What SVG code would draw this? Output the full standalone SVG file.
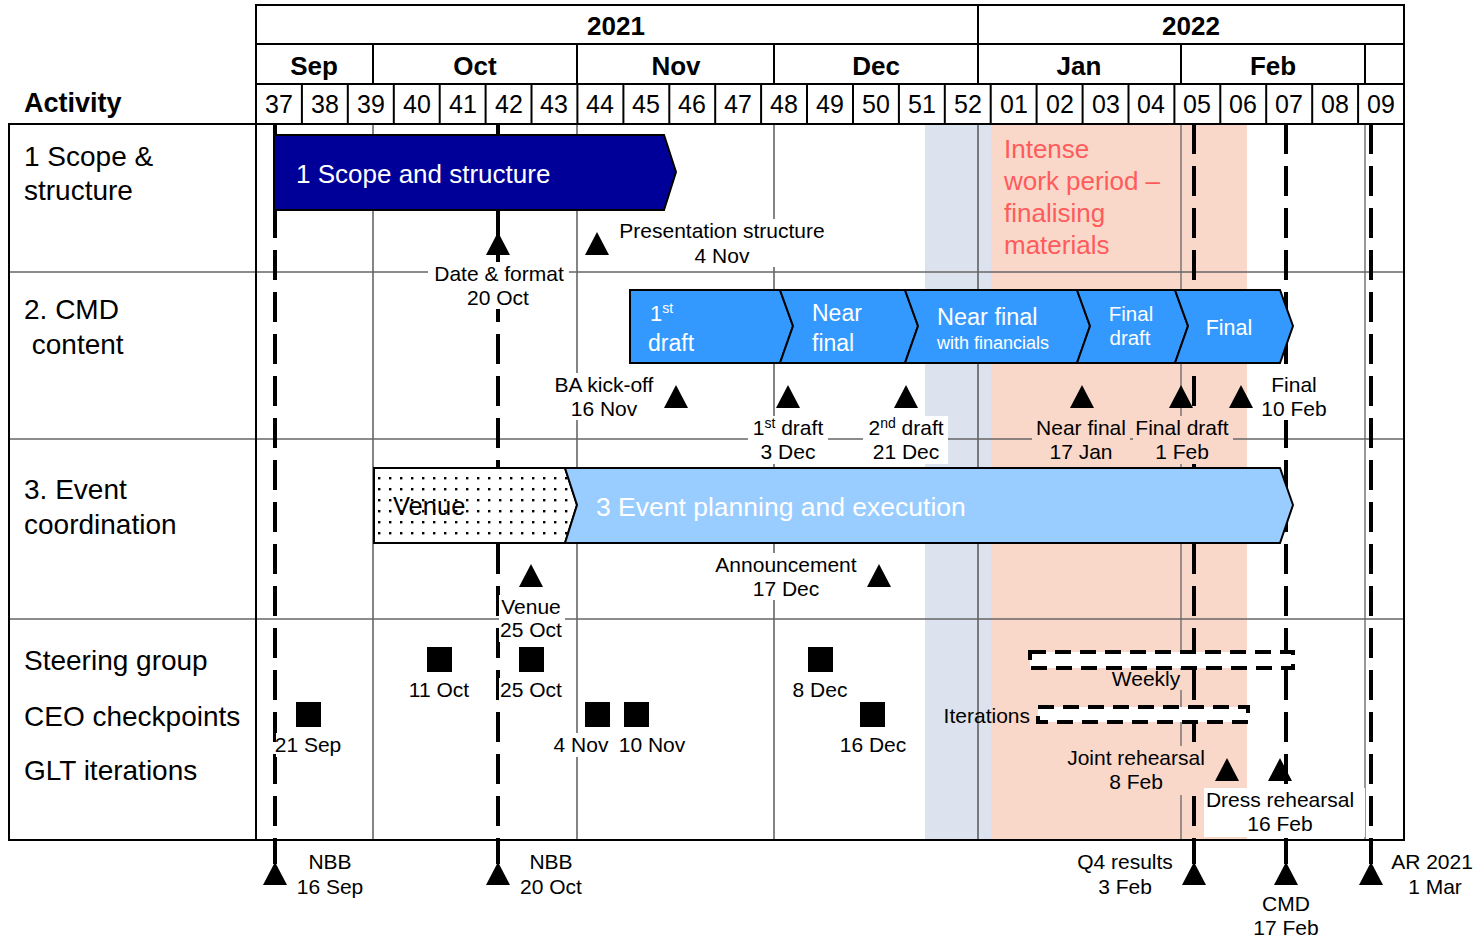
<svg xmlns="http://www.w3.org/2000/svg" width="1473" height="937" viewBox="0 0 1473 937">
<style>
text{font-family:"Liberation Sans",Arial,sans-serif;fill:#000}
.hb{font-weight:bold;font-size:26px;text-anchor:middle}
.wk{font-size:25px;text-anchor:middle}
.act{font-size:28px}
.lb{font-size:21px;text-anchor:middle}
.wt{fill:#fff}
.grid{stroke:#333;stroke-width:1.2;fill:none}
.ggrid{stroke:#777;stroke-width:1.5;fill:none}
.row{stroke:#666;stroke-width:1.6}
.hdr{stroke:#000;stroke-width:2;fill:none}
.ms{stroke:#000;stroke-width:4;stroke-dasharray:30 12;fill:none}
.bar{stroke:#000;stroke-width:2}
.dbox{fill:#fff;stroke:#000;stroke-width:4;stroke-dasharray:16 9}
.wbg{fill:#fff}
.sbg{fill:#F9D8CA}
</style>
<defs>
<path id="tri" d="M0,0 L12,23 L-12,23 Z" fill="#000"/>
<pattern id="dots" width="11" height="11" patternUnits="userSpaceOnUse">
<rect width="11" height="11" fill="#fff"/>
<rect x="4" y="4" width="2.4" height="2.4" fill="#000"/>
</pattern>
</defs>
<rect width="1473" height="937" fill="#fff"/>

<!-- shading -->
<rect x="925" y="124" width="66" height="716" fill="#DCE3EE"/>
<rect x="991" y="124" width="256" height="716" fill="#F9D8CA"/>

<!-- body grid -->
<g id="grid">
<line class="grid" x1="373" y1="124" x2="373" y2="840"/>
<line class="grid" x1="577" y1="124" x2="577" y2="840"/>
<line class="grid" x1="774" y1="124" x2="774" y2="840"/>
<line class="grid" x1="978" y1="124" x2="978" y2="840"/>
<line class="ggrid" x1="1181" y1="124" x2="1181" y2="840"/>
<line class="ggrid" x1="1365" y1="124" x2="1365" y2="840"/>
<line class="row" x1="9" y1="272" x2="1404" y2="272"/>
<line class="row" x1="9" y1="439" x2="1404" y2="439"/>
<line class="row" x1="9" y1="619" x2="1404" y2="619"/>
<rect class="hdr" x="9" y="124" width="1395" height="716"/>
<line class="hdr" x1="256" y1="124" x2="256" y2="840"/>
</g>

<!-- header -->
<g id="header">
<rect class="hdr" x="256" y="5" width="1148" height="119"/>
<line class="hdr" x1="256" y1="44" x2="1404" y2="44"/>
<line class="hdr" x1="256" y1="84" x2="1404" y2="84"/>
<line class="hdr" x1="978" y1="5" x2="978" y2="84"/>
<line class="hdr" x1="373" y1="44" x2="373" y2="84"/>
<line class="hdr" x1="577" y1="44" x2="577" y2="84"/>
<line class="hdr" x1="774" y1="44" x2="774" y2="84"/>
<line class="hdr" x1="1181" y1="44" x2="1181" y2="84"/>
<line class="hdr" x1="1365" y1="44" x2="1365" y2="84"/>
<path class="hdr" d="M301.9,84V124M347.8,84V124M393.8,84V124M439.7,84V124M485.6,84V124M531.5,84V124M577.4,84V124M623.4,84V124M669.3,84V124M715.2,84V124M761.1,84V124M807,84V124M853,84V124M898.9,84V124M944.8,84V124M990.7,84V124M1036.6,84V124M1082.6,84V124M1128.5,84V124M1174.4,84V124M1220.3,84V124M1266.2,84V124M1312.2,84V124M1358.1,84V124"/>
<text class="hb" x="616" y="35">2021</text>
<text class="hb" x="1191" y="35">2022</text>
<text class="hb" x="314" y="75">Sep</text>
<text class="hb" x="475" y="75">Oct</text>
<text class="hb" x="676" y="75">Nov</text>
<text class="hb" x="876" y="75">Dec</text>
<text class="hb" x="1079" y="75">Jan</text>
<text class="hb" x="1273" y="75">Feb</text>
<text class="wk" y="113"><tspan x="279">37</tspan><tspan x="325">38</tspan><tspan x="371">39</tspan><tspan x="417">40</tspan><tspan x="463">41</tspan><tspan x="509">42</tspan><tspan x="554">43</tspan><tspan x="600">44</tspan><tspan x="646">45</tspan><tspan x="692">46</tspan><tspan x="738">47</tspan><tspan x="784">48</tspan><tspan x="830">49</tspan><tspan x="876">50</tspan><tspan x="922">51</tspan><tspan x="968">52</tspan><tspan x="1014">01</tspan><tspan x="1060">02</tspan><tspan x="1106">03</tspan><tspan x="1151">04</tspan><tspan x="1197">05</tspan><tspan x="1243">06</tspan><tspan x="1289">07</tspan><tspan x="1335">08</tspan><tspan x="1381">09</tspan></text>
<text x="24" y="112" font-size="27" font-weight="bold">Activity</text>
</g>

<!-- activity labels -->
<g id="activities">
<text class="act" x="24" y="166">1 Scope &amp;</text>
<text class="act" x="24" y="200">structure</text>
<text class="act" x="24" y="319">2. CMD</text>
<text class="act" x="24" y="354" xml:space="preserve"> content</text>
<text class="act" x="24" y="499">3. Event</text>
<text class="act" x="24" y="534">coordination</text>
<text class="act" x="24" y="670">Steering group</text>
<text class="act" x="24" y="726">CEO checkpoints</text>
<text class="act" x="24" y="780">GLT iterations</text>
</g>

<!-- milestone lines -->
<g id="connectors">
<line class="ms" x1="275" y1="124" x2="275" y2="840"/>
<line class="ms" x1="498" y1="124" x2="498" y2="840"/>
<line class="ms" x1="1194" y1="124" x2="1194" y2="840"/>
<line class="ms" x1="1286" y1="124" x2="1286" y2="840"/>
<line class="ms" x1="1371" y1="124" x2="1371" y2="840"/>
<path d="M275,840V864M498,840V864M1194,840V864M1286,840V864M1371,840V864" stroke="#000" stroke-width="4"/>
</g>

<g id="intense">
<text x="1004" y="158" font-size="26" style="fill:#FF5B5B">Intense</text>
<text x="1004" y="190" font-size="26" style="fill:#FF5B5B">work period –</text>
<text x="1004" y="222" font-size="26" style="fill:#FF5B5B">finalising</text>
<text x="1004" y="254" font-size="26" style="fill:#FF5B5B">materials</text>
</g>

<!-- Row 1 -->
<g id="scope-bar">
<path class="bar" d="M274,135 L664,135 L676,172 L664,210 L274,210 Z" fill="#000099"/>
<text class="wt" x="296" y="183" font-size="26">1 Scope and structure</text>
</g>
<g id="ms-date-format">
<use href="#tri" x="498" y="232"/>
<rect class="wbg" x="428" y="262" width="141" height="47"/>
<text class="lb" x="499" y="281">Date &amp; format</text>
<text class="lb" x="498" y="305">20 Oct</text>
</g>
<g id="ms-presentation">
<use href="#tri" x="597" y="232"/>
<rect class="wbg" x="613" y="219" width="219" height="48"/>
<text class="lb" x="722" y="238">Presentation structure</text>
<text class="lb" x="722" y="263">4 Nov</text>
</g>

<!-- Row 2 -->
<g id="cmd-1st-draft">
<path class="bar" d="M630,290 L780,290 L793,326 L780,363 L630,363 Z" fill="#3399FF"/>
<text class="wt" x="650" y="321" font-size="22">1<tspan font-size="14" dy="-8">st</tspan></text>
<text class="wt" x="648" y="351" font-size="23">draft</text>
</g>
<g id="cmd-near-final">
<path class="bar" d="M780,290 L905,290 L918,326 L905,363 L780,363 L793,326 Z" fill="#3399FF"/>
<text class="wt" x="812" y="321" font-size="23">Near</text>
<text class="wt" x="812" y="351" font-size="23">final</text>
</g>
<g id="cmd-near-final-fin">
<path class="bar" d="M905,290 L1077,290 L1090,326 L1077,363 L905,363 L918,326 Z" fill="#3399FF"/>
<text class="wt" x="937" y="325" font-size="23.5">Near final</text>
<text class="wt" x="937" y="349" font-size="18">with financials</text>
</g>
<g id="cmd-final-draft">
<path class="bar" d="M1077,290 L1175,290 L1188,326 L1175,363 L1077,363 L1090,326 Z" fill="#3399FF"/>
<text class="wt" x="1131" y="321" font-size="20.5" text-anchor="middle">Final</text>
<text class="wt" x="1130" y="345" font-size="20.5" text-anchor="middle">draft</text>
</g>
<g id="cmd-final">
<path class="bar" d="M1175,290 L1280,290 L1293,326 L1280,363 L1175,363 L1188,326 Z" fill="#3399FF"/>
<text class="wt" x="1229" y="335" font-size="21.5" text-anchor="middle">Final</text>
</g>
<g id="ms-ba-kickoff">
<use href="#tri" x="676" y="385"/>
<rect class="wbg" x="548" y="373" width="112" height="47"/>
<text class="lb" x="604" y="392">BA kick-off</text>
<text class="lb" x="604" y="416">16 Nov</text>
</g>
<g id="ms-1st-draft">
<use href="#tri" x="788" y="385"/>
<rect class="wbg" x="748" y="416" width="80" height="48"/>
<text class="lb" x="788" y="435">1<tspan font-size="14" dy="-7">st</tspan><tspan dy="7"> draft</tspan></text>
<text class="lb" x="788" y="459">3 Dec</text>
</g>
<g id="ms-2nd-draft">
<use href="#tri" x="906" y="385"/>
<rect class="wbg" x="863" y="416" width="85" height="48"/>
<text class="lb" x="906" y="435">2<tspan font-size="14" dy="-7">nd</tspan><tspan dy="7"> draft</tspan></text>
<text class="lb" x="906" y="459">21 Dec</text>
</g>
<g id="ms-near-final">
<use href="#tri" x="1082" y="385"/>
<rect class="sbg" x="1032" y="416" width="98" height="48"/>
<text class="lb" x="1081" y="435">Near final</text>
<text class="lb" x="1081" y="459">17 Jan</text>
</g>
<g id="ms-final-draft">
<use href="#tri" x="1181" y="385"/>
<rect class="sbg" x="1133" y="416" width="100" height="48"/>
<text class="lb" x="1182" y="435">Final draft</text>
<text class="lb" x="1182" y="459">1 Feb</text>
</g>
<g id="ms-final">
<use href="#tri" x="1241" y="385"/>
<rect class="wbg" x="1258" y="373" width="72" height="47"/>
<text class="lb" x="1294" y="392">Final</text>
<text class="lb" x="1294" y="416">10 Feb</text>
</g>

<!-- Row 3 -->
<g id="venue-bar">
<path class="bar" d="M374,468 L565,468 L577,505 L565,543 L374,543 Z" fill="url(#dots)"/>
<text x="393" y="515" font-size="25.5">Venue</text>
</g>
<g id="event-bar">
<path class="bar" d="M565,468 L1280,468 L1293,505 L1280,543 L565,543 L577,505 Z" fill="#99CCFF"/>
<text class="wt" x="596" y="516" font-size="26.5">3 Event planning and execution</text>
</g>
<g id="ms-venue">
<use href="#tri" x="531" y="564"/>
<rect class="wbg" x="499" y="595" width="66" height="47"/>
<text class="lb" x="531" y="614">Venue</text>
<text class="lb" x="531" y="637">25 Oct</text>
</g>
<g id="ms-announcement">
<use href="#tri" x="879" y="564"/>
<rect class="wbg" x="710" y="553" width="152" height="47"/>
<text class="lb" x="786" y="572">Announcement</text>
<text class="lb" x="786" y="596">17 Dec</text>
</g>

<!-- Row 4 -->
<g id="sq-21sep"><rect x="296" y="702" width="25" height="25"/><rect class="wbg" x="276" y="733" width="68" height="24"/><text class="lb" x="308" y="752">21 Sep</text></g>
<g id="sq-11oct"><rect x="427" y="647" width="25" height="25"/><text class="lb" x="439" y="697">11 Oct</text></g>
<g id="sq-25oct"><rect x="519" y="647" width="25" height="25"/><rect class="wbg" x="499" y="678" width="66" height="24"/><text class="lb" x="531" y="697">25 Oct</text></g>
<g id="sq-4nov"><rect x="585" y="702" width="25" height="25"/><rect class="wbg" x="551" y="733" width="60" height="24"/><text class="lb" x="581" y="752">4 Nov</text></g>
<g id="sq-10nov"><rect x="624" y="702" width="25" height="25"/><text class="lb" x="652" y="752">10 Nov</text></g>
<g id="sq-8dec"><rect x="808" y="647" width="25" height="25"/><text class="lb" x="820" y="697">8 Dec</text></g>
<g id="sq-16dec"><rect x="860" y="702" width="25" height="25"/><text class="lb" x="873" y="752">16 Dec</text></g>
<g id="weekly">
<rect class="dbox" x="1030" y="652" width="263" height="16"/>
<rect class="sbg" x="1108" y="670" width="76" height="20"/>
<text class="lb" x="1146" y="686">Weekly</text>
</g>
<g id="iterations">
<rect class="dbox" x="1038" y="707" width="210" height="15"/>
<text x="1030" y="723" font-size="21" text-anchor="end">Iterations</text>
</g>
<g id="ms-joint-rehearsal">
<use href="#tri" x="1227" y="758"/>
<rect class="sbg" x="1062" y="746" width="148" height="49"/>
<text class="lb" x="1136" y="765">Joint rehearsal</text>
<text class="lb" x="1136" y="789">8 Feb</text>
</g>
<g id="ms-dress-rehearsal">
<use href="#tri" x="1280" y="758"/>
<rect class="wbg" x="1204" y="788" width="161" height="49"/>
<text class="lb" x="1280" y="807">Dress rehearsal</text>
<text class="lb" x="1280" y="831">16 Feb</text>
</g>

<!-- bottom milestones -->
<g id="nbb-16sep"><use href="#tri" x="275" y="862"/><text class="lb" x="330" y="869">NBB</text><text class="lb" x="330" y="894">16 Sep</text></g>
<g id="nbb-20oct"><use href="#tri" x="498" y="862"/><text class="lb" x="551" y="869">NBB</text><text class="lb" x="551" y="894">20 Oct</text></g>
<g id="q4-results"><use href="#tri" x="1194" y="862"/><text class="lb" x="1125" y="869">Q4 results</text><text class="lb" x="1125" y="894">3 Feb</text></g>
<g id="cmd"><use href="#tri" x="1286" y="862"/><text class="lb" x="1286" y="911">CMD</text><text class="lb" x="1286" y="935">17 Feb</text></g>
<g id="ar-2021"><use href="#tri" x="1371" y="862"/><text class="lb" x="1432" y="869">AR 2021</text><text class="lb" x="1435" y="894">1 Mar</text></g>
</svg>
